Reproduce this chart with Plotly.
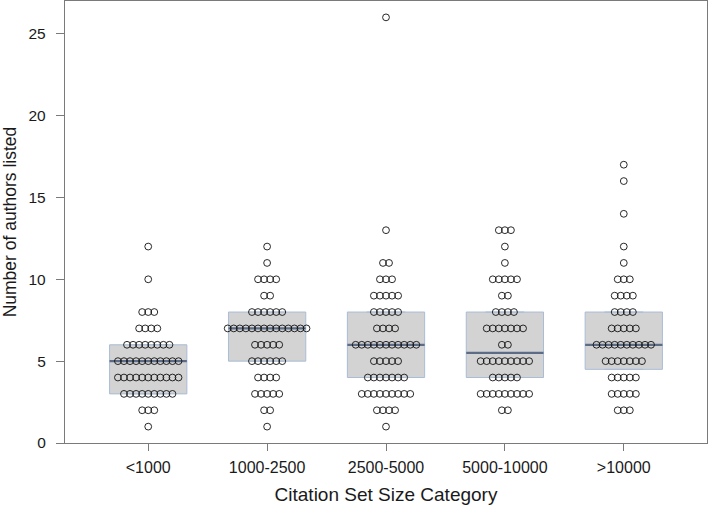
import plotly.graph_objects as go
import numpy as np

categories = ["<1000", "1000-2500", "2500-5000", "5000-10000", ">10000"]

# number of authors value -> count of studies, per category (read from the dot rows)
counts_lt1000 = {1: 1, 2: 3, 3: 9, 4: 11, 5: 11, 6: 8, 7: 4, 8: 3, 10: 1, 12: 1}
counts_1000_2500 = {1: 1, 2: 2, 3: 5, 4: 4, 5: 6, 6: 5, 7: 14, 8: 6, 9: 2, 10: 4, 11: 1, 12: 1}
counts_2500_5000 = {1: 1, 2: 4, 3: 9, 4: 7, 5: 5, 6: 11, 7: 4, 8: 5, 9: 5, 10: 3, 11: 2, 13: 1, 26: 1}
counts_5000_10000 = {2: 2, 3: 9, 4: 5, 5: 9, 6: 2, 7: 7, 8: 4, 9: 2, 10: 5, 11: 1, 12: 1, 13: 3}
counts_gt10000 = {2: 3, 3: 5, 4: 5, 5: 7, 6: 10, 7: 5, 8: 4, 9: 4, 10: 3, 11: 1, 12: 1, 14: 1, 16: 1, 17: 1}

# box statistics as drawn
box_q1 = [3, 5, 4, 4, 4.5]
box_median = [5, 7, 6, 5.5, 6]
box_q3 = [6, 8, 8, 8, 8]

all_counts = [counts_lt1000, counts_1000_2500, counts_2500_5000, counts_5000_10000, counts_gt10000]

BOX_W = 0.65
DOT_STEP = 0.051
fill_col = "#d3d3d3"
edge_col = "#a9bcd6"
med_col = "#5c6c86"
axis_col = "#7a7a7a"

fig = go.Figure()

for i, cat in enumerate(categories):
    fig.add_trace(go.Box(
        x=[i], q1=[box_q1[i]], median=[box_median[i]], q3=[box_q3[i]],
        lowerfence=[box_q1[i]], upperfence=[box_q3[i]],
        width=BOX_W, fillcolor=fill_col, line=dict(color=edge_col, width=1),
        boxpoints=False, showlegend=False, hoverinfo="skip",
    ))
    fig.add_trace(go.Scatter(
        x=[i - BOX_W / 2, i + BOX_W / 2], y=[box_median[i], box_median[i]],
        mode="lines", line=dict(color=med_col, width=2.2),
        showlegend=False, hoverinfo="skip",
    ))

for i, cnts in enumerate(all_counts):
    xs, ys = [], []
    for v, n in cnts.items():
        offs = (np.arange(n) - (n - 1) / 2) * DOT_STEP
        xs.extend(list(i + offs))
        ys.extend([v] * n)
    fig.add_trace(go.Scatter(
        x=xs, y=ys, mode="markers",
        marker=dict(symbol="circle-open", size=6.8, color="#111111", line=dict(width=0.9)),
        showlegend=False,
    ))

font_family = "Liberation Sans, Arial, sans-serif"
fig.update_layout(
    width=708, height=506,
    margin=dict(l=65, r=1, t=1, b=63),
    plot_bgcolor="white", paper_bgcolor="white",
    font=dict(family=font_family, color="#1a1a1a"),
    xaxis=dict(
        range=[-0.7, 4.7], tickmode="array", tickvals=list(range(5)), ticktext=categories,
        showgrid=False, zeroline=False, showline=True, linecolor=axis_col, linewidth=1.3,
        mirror=True, ticks="outside", ticklen=7, tickcolor=axis_col,
        tickfont=dict(size=16), ticklabelstandoff=3, automargin=False,
        title=dict(text="Citation Set Size Category", font=dict(size=19), standoff=12),
    ),
    yaxis=dict(
        range=[0, 27], tickvals=[0, 5, 10, 15, 20, 25],
        showgrid=False, zeroline=False, showline=True, linecolor=axis_col, linewidth=1.3,
        mirror=True, ticks="outside", ticklen=8, tickcolor=axis_col,
        tickfont=dict(size=15.5), ticklabelstandoff=7, automargin=False,
        title=dict(text="Number of authors listed", font=dict(size=17.5), standoff=10),
    ),
)

fig.write_html(
    "out.html",
    config={"displayModeBar": False},
    post_script="document.body.style.margin='0';document.body.style.padding='0';",
)
